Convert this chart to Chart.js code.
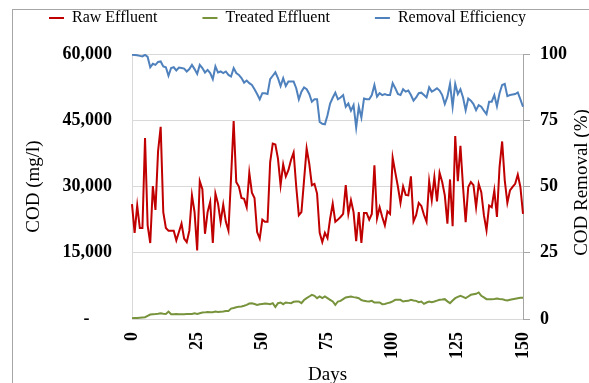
<!DOCTYPE html>
<html>
<head>
<meta charset="utf-8">
<script src="https://cdn.jsdelivr.net/npm/chart.js@4.4.0/dist/chart.umd.min.js"></script>
<style>
  html, body { margin: 0; padding: 0; background: #fff; }
  #wrap { width: 589px; height: 383px; }
</style>
</head>
<body>
<div id="wrap"><canvas id="cod-chart"></canvas></div>
<script>
// COD of raw and treated effluent (mg/l), one reading per day
var rawEffluent = [
  26000, 19500, 25700, 20600, 20600, 41000, 21200, 17200, 30100, 24700,
  38000, 43500, 24200, 20600, 20000, 20000, 20000, 17800, 19700, 21600,
  18200, 17400, 20000, 28000, 24200, 15500, 31200, 29400, 19300, 24200,
  26500, 17200, 28400, 26100, 22000, 25900, 22000, 20000, 32000, 44800,
  31000, 30000, 27400, 27200, 25300, 33100, 28600, 27400, 19700, 18200,
  22500, 22000, 22000, 35500, 39700, 39500, 36300, 30300, 35000, 32300,
  33700, 36000, 37700, 30000, 23500, 24200, 31400, 38600, 35200, 30300,
  30600, 28400, 19500, 17400, 19500, 18300, 22700, 26100, 22000, 22500,
  23100, 23800, 30300, 23800, 26900, 24200, 17600, 24200, 17200, 24000,
  24000, 22500, 23800, 34800, 22800, 25300, 23100, 21200, 24400, 23800,
  36500, 33200, 30000, 26300, 30000, 28100, 28000, 32300, 22100, 23500,
  26300, 25600, 23600, 22000, 31200, 26900, 32100, 26600, 33100, 31000,
  28000, 21600, 31600, 21000, 41400, 31200, 39200, 29900, 21900, 29900,
  31000, 30300, 25300, 30600, 28700, 23500, 20100, 25700, 25300, 29100,
  23100, 34400, 40200, 31400, 26300, 29100, 29900, 30600, 32700, 29900,
  23800
];

var treatedEffluent = [
  150, 200, 250, 300, 350, 400, 700, 1000, 1100, 1140,
  1200, 1300, 1200, 1140, 1670, 1070, 1100, 1140, 1100, 1070,
  1100, 1140, 1150, 1140, 1300, 1150, 1300, 1450, 1500, 1600,
  1550, 1520, 1670, 1600, 1650, 1700, 1800, 1830, 2360, 2500,
  2660, 2800, 2820, 3000, 3200, 3500, 3580, 3400, 3200, 3350,
  3420, 3500, 3450, 3350, 3580, 2700, 3580, 3730, 3350, 3730,
  3650, 3580, 3900, 3960, 3960, 3580, 4300, 4720, 5100, 5480,
  5250, 4720, 5100, 4720, 5100, 4720, 4340, 3960, 3200, 3960,
  4110, 4490, 4870, 5000, 5100, 4950, 4850, 4720, 4300, 4110,
  4000, 3960, 4110, 3730, 3730, 3730, 3350, 3420, 3600, 3730,
  4000, 4340, 4340, 4340, 3960, 4050, 4110, 4340, 4200, 4110,
  3800, 3960, 3420, 3730, 3960, 3800, 3960, 4150, 4340, 4400,
  4490, 4000, 3580, 4200, 4720, 5000, 5250, 5000, 4720, 5100,
  5480, 5600, 5710, 6010, 5250, 4900, 4490, 4490, 4490, 4550,
  4640, 4550, 4490, 4300, 4190, 4350, 4490, 4600, 4720, 4790,
  4790
];

// COD removal (%)
var removalEfficiency = [
  99.7, 99.6, 99.5, 99.3, 99.1, 99.7, 98.9, 95.0, 96.3, 95.9,
  97.0, 97.2, 95.3, 95.0, 91.8, 94.7, 95.0, 93.8, 94.9, 94.7,
  94.5, 93.4, 94.3, 95.9, 94.3, 92.5, 95.9, 94.7, 93.0, 94.0,
  92.8, 90.5, 95.3, 93.0, 93.4, 92.8, 93.4, 92.1, 91.5, 94.7,
  92.8, 92.1, 90.9, 89.2, 90.0, 89.0, 88.3, 86.7, 84.9, 82.9,
  85.2, 85.2, 84.9, 90.5, 91.8, 93.1, 90.9, 87.9, 90.9, 87.9,
  89.6, 89.6, 89.6, 87.1, 82.9, 85.8, 87.4, 86.7, 84.9, 82.0,
  82.9, 82.9, 74.4, 73.7, 73.5, 76.9, 81.3, 83.5, 85.4, 82.9,
  83.6, 84.5, 80.1, 81.3, 78.6, 80.7, 72.2, 80.1, 76.0, 83.2,
  82.9, 82.9, 84.5, 88.3, 83.9, 85.2, 84.5, 84.9, 84.5, 84.5,
  89.0, 87.1, 84.9, 84.5, 86.7, 85.8, 86.2, 84.5, 82.4, 83.6,
  85.2, 85.4, 84.5, 83.6, 87.4, 85.8, 86.4, 87.1, 86.2, 84.5,
  81.1, 83.9, 88.7, 80.1, 88.7, 84.9, 86.7, 83.6, 78.8, 83.2,
  82.4, 81.1, 78.8, 80.7, 80.1, 78.6, 77.3, 82.0, 82.0, 84.5,
  80.3, 85.2, 88.3, 88.7, 84.1, 84.5, 84.7, 84.9, 85.5, 82.9,
  80.1
];

var days = rawEffluent.map(function (v, i) { return i; });
var dayTicks = [0, 25, 50, 75, 100, 125, 150];

var serif = "'Liberation Serif', 'Times New Roman', serif";

// thin frame round the whole chart, open at the right and bottom
var framePlugin = {
  id: 'frame',
  beforeDraw: function (chart) {
    var ctx = chart.ctx;
    ctx.save();
    ctx.strokeStyle = '#a6a6a6';
    ctx.lineWidth = 1;
    ctx.strokeRect(12.5, 9.5, 700, 500);
    ctx.restore();
  }
};

// leave a gap between the legend row and the plot
var legendGapPlugin = {
  id: 'legendGap',
  beforeInit: function (chart) {
    if (!chart.legend) return;
    var fit = chart.legend.fit;
    chart.legend.fit = function () {
      fit.call(this);
      this.height += 18;
    };
  }
};

// secondary axis title, turned to read bottom-up like the left one
var rightTitlePlugin = {
  id: 'rightTitle',
  afterDraw: function (chart) {
    var ctx = chart.ctx;
    var area = chart.chartArea;
    ctx.save();
    ctx.translate(chart.width - 7, (area.top + area.bottom) / 2 - 4);
    ctx.rotate(-Math.PI / 2);
    ctx.font = '19px ' + serif;
    ctx.fillStyle = '#000';
    ctx.textAlign = 'center';
    ctx.textBaseline = 'middle';
    ctx.fillText('COD Removal (%)', 0, 0);
    ctx.restore();
  }
};

new Chart(document.getElementById('cod-chart'), {
  type: 'line',
  data: {
    labels: days,
    datasets: [{
      label: 'Raw Effluent',
      data: rawEffluent,
      borderColor: '#c00000',
      backgroundColor: '#c00000',
      borderWidth: 2,
      yAxisID: 'y'
    }, {
      label: 'Treated Effluent',
      data: treatedEffluent,
      borderColor: '#77933c',
      backgroundColor: '#77933c',
      borderWidth: 2,
      yAxisID: 'y'
    }, {
      label: 'Removal Efficiency',
      data: removalEfficiency,
      borderColor: '#4f81bd',
      backgroundColor: '#4f81bd',
      borderWidth: 2,
      yAxisID: 'y1'
    }]
  },
  options: {
    responsive: true,
    maintainAspectRatio: false,
    animation: false,
    layout: { padding: { left: 0, top: -35, right: 14, bottom: 0 } },
    elements: { point: { radius: 0 }, line: { tension: 0 } },
    plugins: {
      tooltip: { enabled: false },
      legend: {
        labels: {
          usePointStyle: true,
          pointStyle: 'line',
          pointStyleWidth: 15,
          padding: 45,
          color: '#000',
          font: { family: serif, size: 16 }
        }
      }
    },
    scales: {
      x: {
        type: 'category',
        grid: { display: false },
        border: { color: '#d9d9d9' },
        ticks: {
          autoSkip: false,
          minRotation: 90,
          maxRotation: 90,
          padding: 5,
          color: '#000',
          font: { family: serif, size: 18, weight: 'bold' },
          callback: function (v, i) {
            return dayTicks.indexOf(days[i]) >= 0 ? String(days[i]) : null;
          }
        },
        title: {
          display: true,
          text: 'Days',
          color: '#000',
          font: { family: serif, size: 19 },
          padding: { top: 0, bottom: -3 }
        },
        afterFit: function (scale) { scale.height = 64; }
      },
      y: {
        position: 'left',
        min: 0,
        max: 60000,
        grid: { color: '#d9d9d9', drawTicks: false },
        border: { color: '#d9d9d9' },
        ticks: {
          stepSize: 15000,
          padding: 20,
          color: '#000',
          font: { family: serif, size: 18, weight: 'bold' },
          callback: function (v) {
            return v === 0 ? '-     ' : v.toLocaleString('en-US');
          }
        },
        title: {
          display: true,
          text: 'COD (mg/l)',
          color: '#000',
          font: { family: serif, size: 19 },
          padding: { top: 23, bottom: 0 }
        },
        afterFit: function (scale) { scale.width = 132; }
      },
      y1: {
        position: 'right',
        min: 0,
        max: 100,
        grid: { drawOnChartArea: false, color: '#a6a6a6', tickLength: 7 },
        border: { color: '#a6a6a6' },
        ticks: {
          stepSize: 25,
          padding: 10,
          color: '#000',
          font: { family: serif, size: 18, weight: 'bold' }
        },
        afterFit: function (scale) { scale.width = 52; }
      }
    }
  },
  plugins: [framePlugin, legendGapPlugin, rightTitlePlugin]
});
</script>
</body>
</html>
